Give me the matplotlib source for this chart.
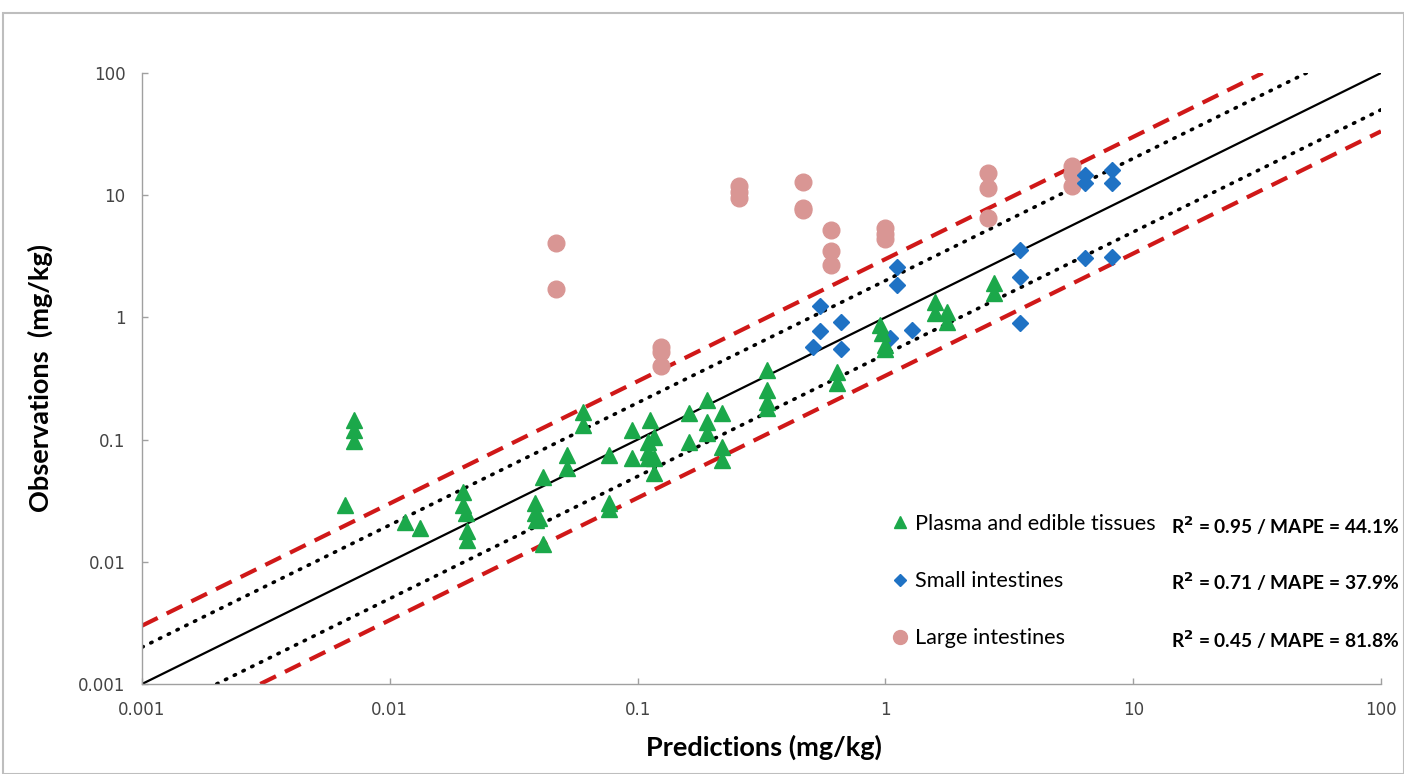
import numpy as np
import matplotlib
matplotlib.use("Agg")
import matplotlib.pyplot as plt
from matplotlib.patches import Rectangle
from matplotlib.lines import Line2D

# ---- data ----
green_x = [0.0066, 0.0072, 0.0072, 0.0072, 0.0115, 0.0132, 0.0197, 0.0197, 0.0203, 0.0205, 0.0205,
           0.0385, 0.0385, 0.040, 0.039, 0.0415, 0.0415, 0.052, 0.052, 0.060, 0.060,
           0.077, 0.077, 0.077, 0.095, 0.095, 0.112, 0.110, 0.110, 0.110, 0.117, 0.117, 0.117,
           0.161, 0.161, 0.19, 0.19, 0.19, 0.219, 0.219, 0.219,
           0.333, 0.333, 0.333, 0.333, 0.64, 0.64, 0.95, 0.97, 1.0, 1.0,
           1.585, 1.585, 1.77, 1.77, 2.74, 2.74]
green_y = [0.029, 0.144, 0.12, 0.097, 0.021, 0.019, 0.037, 0.029, 0.025, 0.018, 0.015,
           0.030, 0.025, 0.023, 0.022, 0.049, 0.014, 0.075, 0.059, 0.168, 0.132,
           0.075, 0.030, 0.027, 0.12, 0.071, 0.145, 0.096, 0.079, 0.071, 0.105, 0.071, 0.053,
           0.165, 0.096, 0.21, 0.139, 0.113, 0.165, 0.087, 0.068,
           0.37, 0.255, 0.203, 0.181, 0.357, 0.29, 0.87, 0.75, 0.6, 0.55,
           1.34, 1.09, 1.11, 0.92, 1.91, 1.58]

blue_x = [0.545, 0.545, 0.51, 0.662, 0.662, 1.045, 1.11, 1.11, 1.28,
          3.49, 3.49, 3.49, 6.39, 8.21, 6.39, 6.39, 8.21, 8.21]
blue_y = [1.24, 0.774, 0.573, 0.917, 0.551, 0.678, 2.58, 1.84, 0.79,
          3.56, 2.14, 0.9, 3.06, 3.12, 14.5, 12.5, 16.1, 12.6]

pink_x = [0.047, 0.047, 0.124, 0.124, 0.124, 0.256, 0.256, 0.256, 0.465, 0.465, 0.465,
          0.603, 0.603, 0.603, 1.0, 1.0, 1.0, 2.6, 2.6, 2.6, 5.66, 5.66, 5.66]
pink_y = [4.06, 1.71, 0.57, 0.52, 0.40, 11.9, 10.6, 9.5, 12.8, 7.85, 7.6,
          5.19, 3.49, 2.69, 5.4, 4.8, 4.4, 15.2, 11.5, 6.5, 17.5, 15.0, 12.0]

series_labels = ["Plasma and edible tissues", "Small intestines", "Large intestines"]
stats_labels = ["0.95 / MAPE = 44.1%", "0.71 / MAPE = 37.9%", "0.45 / MAPE = 81.8%"]
fold_factors = [1, 2, 0.5, 3, 1 / 3]
ticks = [0.001, 0.01, 0.1, 1, 10, 100]
tick_labels = ["0.001", "0.01", "0.1", "1", "10", "100"]

# ---- figure ----
fig = plt.figure(figsize=(14.04, 7.74), dpi=100)
ax = fig.add_axes([142 / 1404, 1 - 684 / 774, (1381 - 142) / 1404, (684 - 73) / 774])
fig.patches.append(Rectangle((3 / 1404, 0), 1 - 3 / 1404, 1 - 13 / 774, transform=fig.transFigure,
                             fill=False, edgecolor="#BEBEBE", linewidth=1.5))

ax.set_xscale("log")
ax.set_yscale("log")
ax.set_xlim(0.001, 100)
ax.set_ylim(0.001, 100)

xl = np.logspace(-3, 2, 200)
styles = {1: dict(color="black", lw=1.6, ls="-"),
          2: dict(color="black", lw=2.6, ls=(0, (0.4, 2.3)), dash_capstyle="round"),
          0.5: dict(color="black", lw=2.6, ls=(0, (0.4, 2.3)), dash_capstyle="round"),
          3: dict(color="#D01818", lw=3.0, ls=(0, (4.2, 2.4))),
          1 / 3: dict(color="#D01818", lw=3.0, ls=(0, (4.2, 2.4)))}
for f in fold_factors:
    yl = xl * f
    m = (yl >= 0.001) & (yl <= 100)
    ax.plot(xl[m], yl[m], zorder=2, **styles[f])

ax.plot(pink_x, pink_y, "o", ms=12, color="#D99694", mec="#D99694", ls="none", zorder=3)
ax.plot(blue_x, blue_y, "D", ms=8, color="#1F72C4", ls="none", zorder=4)
ax.plot(green_x, green_y, "^", ms=11, color="#1BA84A", ls="none", zorder=5)

ax.set_xticks(ticks)
ax.set_xticklabels(tick_labels)
ax.set_yticks(ticks)
ax.set_yticklabels(tick_labels)
ax.minorticks_off()
ax.tick_params(axis="both", which="major", direction="in", length=4, width=1, color="#A0A0A0",
               labelsize=12, labelcolor="#444444")
ax.tick_params(axis="x", pad=12)
ax.tick_params(axis="y", pad=12)
for s in ["top", "right"]:
    ax.spines[s].set_visible(False)
for s in ["left", "bottom"]:
    ax.spines[s].set_color("#A0A0A0")
    ax.spines[s].set_linewidth(1)

ax.set_xlabel("Predictions (mg/kg)", fontsize=19.5, fontweight="bold", family="Lato", va="center")
ax.xaxis.set_label_coords(0.502, (684 - 747) / 611)
ax.set_ylabel("Observations  (mg/kg)", fontsize=19.5, fontweight="bold", family="Lato", va="center")
ax.yaxis.set_label_coords((40 - 142) / 1239, 0.5)

handles = [Line2D([], [], marker="^", color="#1BA84A", ls="none", ms=8),
           Line2D([], [], marker="D", color="#1F72C4", ls="none", ms=6),
           Line2D([], [], marker="o", color="#D99694", ls="none", ms=10)]
leg = ax.legend(handles, series_labels, loc="upper left", bbox_to_anchor=(878 / 1404, 1 - 503 / 774),
                bbox_transform=fig.transFigure, frameon=False, prop={"family": "Lato", "size": 15.6},
                labelspacing=1.72, handletextpad=0.2, handlelength=1.0, borderpad=0)

for i, t in enumerate(stats_labels):
    ypix = [526, 582, 640][i]
    fig.text(1399 / 1404, 1 - ypix / 774, r"R$^{\mathbf{2}}$ = " + t, ha="right", va="center",
             fontsize=13.8, fontweight="bold", family="Lato")

fig.savefig("out.png", dpi=100)
